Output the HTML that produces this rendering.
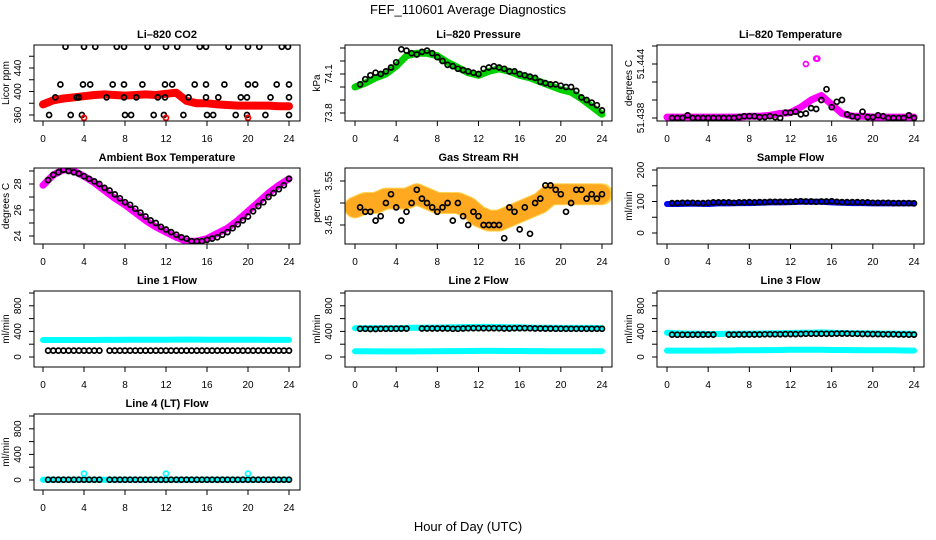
<!DOCTYPE html>
<html><head><meta charset="utf-8">
<style>
html,body{margin:0;padding:0;background:#fff;}
svg{display:block;font-family:"Liberation Sans",sans-serif;}
</style></head>
<body>
<svg id="chart" width="936" height="540" viewBox="0 0 936 540" xmlns="http://www.w3.org/2000/svg">
<rect x="0" y="0" width="936" height="540" fill="#fff"/>
<text x="468" y="14" font-size="13" text-anchor="middle">FEF_110601  Average Diagnostics</text>
<text x="468" y="531" font-size="13" text-anchor="middle">Hour of Day (UTC)</text>
</svg>
<script>
const xTicks = [0,4,8,12,16,20,24];
const co2Band = [378,385,388,390,392,394,395,394,393,394,395,394,396,398,384,380,380,378,377,376,376,376,376,375,375];
const co2CircHours = [2.2,4.0,5.1,7.2,7.9,10.2,12.0,13.1,15.3,15.9,18.1,20.0,21.1,23.3,23.9,
 1.7,3.9,4.6,6.8,7.9,9.7,11.9,12.6,14.8,15.9,17.7,20.0,20.7,22.8,24.0,
 1.2,3.3,3.5,6.2,7.9,9.1,11.2,11.9,14.2,15.9,17.1,19.3,19.9,22.2,24.0,
 0.6,2.7,3.8,8.0,8.6,10.8,11.8,13.7,16.0,16.6,18.8,19.9,21.7,24.0];
const co2CircVals = [476,476,476,476,476,476,476,476,476,476,476,476,476,476,476,
 412,412,412,412,412,412,412,412,412,412,412,412,412,412,412,
 390,390,390,390,390,390,390,390,390,390,390,390,390,390,390,
 360,360,360,360,360,360,360,360,360,360,360,360,360,360];
const presBand = [74.00,74.03,74.07,74.10,74.16,74.24,74.26,74.26,74.24,74.19,74.15,74.11,74.09,74.12,74.14,74.12,74.09,74.07,74.04,74.01,73.98,73.96,73.91,73.85,73.79];
const presCirc = [74.02,74.06,74.09,74.11,74.10,74.12,74.15,74.19,74.29,74.28,74.26,74.25,74.27,74.28,74.26,74.23,74.20,74.17,74.16,74.14,74.13,74.12,74.11,74.10,74.14,74.15,74.16,74.15,74.14,74.12,74.12,74.10,74.09,74.08,74.07,74.04,74.03,74.02,74.02,74.01,74.00,74.00,73.97,73.92,73.90,73.88,73.86,73.82];
const tempBand = [51.4381,51.4381,51.4381,51.4381,51.4381,51.4381,51.4381,51.4381,51.4382,51.4382,51.4383,51.4385,51.4386,51.4392,51.4400,51.4405,51.4395,51.4385,51.4382,51.4382,51.4381,51.4381,51.4381,51.4381,51.4381];
const tempCirc = [51.4380,51.4380,51.4380,51.4383,51.4380,51.4380,51.4380,51.4380,51.4380,51.4380,51.4380,51.4380,51.4380,51.4381,51.4382,51.4382,51.4382,51.4381,51.4381,51.4382,51.4381,51.4380,51.4386,51.4386,51.4387,51.4384,51.4385,51.4391,51.4390,51.4400,51.4412,51.4392,51.4398,51.4400,51.4384,51.4382,51.4381,51.4387,51.4381,51.4381,51.4383,51.4382,51.4380,51.4380,51.4380,51.4380,51.4383,51.4380];
const ambBand = [27.9,28.7,29.1,29.0,28.6,28.1,27.5,26.9,26.4,25.8,25.2,24.7,24.3,23.9,23.6,23.6,23.8,24.2,24.6,25.2,25.9,26.6,27.3,27.9,28.4];
const ambCirc = [28.3,28.7,28.9,29.1,29.0,28.9,28.8,28.6,28.4,28.2,28.0,27.7,27.5,27.2,26.9,26.6,26.4,26.1,25.8,25.5,25.2,25.0,24.7,24.5,24.3,24.1,23.9,23.8,23.6,23.6,23.6,23.7,23.8,23.9,24.1,24.3,24.6,24.9,25.2,25.5,25.9,26.3,26.6,27.0,27.3,27.6,27.9,28.4];
const rhBand = [3.49,3.50,3.50,3.51,3.51,3.51,3.52,3.51,3.50,3.50,3.50,3.49,3.47,3.46,3.46,3.47,3.48,3.49,3.50,3.52,3.52,3.52,3.52,3.52,3.52];
const rhCirc = [3.49,3.48,3.48,3.46,3.47,3.50,3.52,3.49,3.46,3.48,3.50,3.53,3.51,3.50,3.49,3.48,3.49,3.50,3.46,3.50,3.47,3.45,3.48,3.47,3.45,3.45,3.45,3.45,3.42,3.49,3.48,3.44,3.49,3.43,3.50,3.51,3.54,3.54,3.53,3.52,3.48,3.50,3.53,3.53,3.51,3.52,3.51,3.52];
const sfBand = [92,92,93,93,92,94,94,95,95,96,97,97,98,99,99,99,97,96,95,95,94,94,94,94,94];
const sfCirc = [95,95,96,96,96,95,95,96,97,97,97,97,96,97,97,98,97,98,98,99,99,99,99,99,100,101,100,100,99,100,100,101,99,98,98,98,98,97,97,96,96,96,96,95,95,95,95,94];
const l1Top = [265,265,265,266,266,266,267,267,268,268,269,270,271,272,272,272,271,270,270,269,268,268,267,267,267];
const l1Bot = [];
const l1Circ = [100,100,100,100,100,100,100,100,100,100,100,null,100,100,100,100,100,100,100,100,100,100,100,100,100,100,100,100,100,100,100,100,100,100,100,100,100,100,100,100,100,100,100,100,100,100,100,100];
const l2Top = [450,452,452,452,452,455,458,460,460,462,465,468,470,470,468,466,464,460,458,456,455,455,455,454,452];
const l2Bot = [90,90,88,88,88,88,88,90,90,92,92,94,95,95,95,94,93,92,92,91,90,90,90,90,90];
const l2Circ = [440,440,438,438,440,440,442,442,444,444,null,null,445,445,446,446,446,446,440,442,446,448,450,450,448,448,448,448,446,446,448,450,450,448,446,446,444,444,442,442,440,440,440,440,440,440,440,440];
const l3Top = [380,370,365,365,360,360,362,362,365,365,368,370,375,378,380,385,380,375,372,370,368,366,365,364,362];
const l3Bot = [100,100,100,100,100,102,102,104,105,106,108,110,112,112,112,112,110,110,108,106,105,104,104,102,100];
const l3Circ = [350,348,348,348,348,350,350,350,350,null,null,350,350,352,352,352,352,352,355,355,355,355,358,358,358,360,362,362,362,362,362,362,365,365,365,362,362,360,360,358,358,355,355,355,352,352,350,350];
const l4Top = [5,5,5,5,5,5,5,5,5,5,5,5,5,5,5,5,5,5,5,5,5,5,5,5,5];
const l4Bot = [];
const l4Circ = [5,5,5,5,5,5,5,5,5,5,5,null,5,5,5,5,5,5,5,5,5,5,5,5,5,5,5,5,5,5,5,5,5,5,5,5,5,5,5,5,5,5,5,5,5,5,5,5];
const l4SpikeHours = [4,12,20];
const l4SpikeVals = [100,100,100];

const NS = "http://www.w3.org/2000/svg";
const svg = document.getElementById('chart');
const hoursBand = []; for (let i = 0; i <= 24; i++) hoursBand.push(i);
const hoursCirc = []; for (let i = 1; i <= 48; i++) hoursCirc.push(i / 2);
const cols = [[34,300,43,289],[345,612,355,602],[657,924,667,914]];
const rows = [45,168,291,414];
const BH = 76;

function mk(tag, attrs, parent) {
  const e = document.createElementNS(NS, tag);
  for (const k in attrs) e.setAttribute(k, attrs[k]);
  (parent || svg).appendChild(e);
  return e;
}

function panel(cfg) {
  const c = cols[cfg.col], top = rows[cfg.row], bot = top + BH;
  const g = mk('g', {});
  
  
  const x = h => c[2] + (c[3] - c[2]) * h / 24;
  const y = v => cfg.p0 + (v - cfg.v0) * (cfg.p1 - cfg.p0) / (cfg.v1 - cfg.v0);
  const t = mk('text', {x: (c[0] + c[1]) / 2, y: top - 7, 'font-size': 11, 'font-weight': 'bold', 'text-anchor': 'middle'}, g);
  t.textContent = cfg.title;
  
  
  const clip = 'clip-' + cfg.name;
  const cp = mk('clipPath', {id: clip}, g);
  mk('rect', {x: c[0], y: top, width: c[1] - c[0], height: BH}, cp);
  const plot = mk('g', {'clip-path': 'url(#' + clip + ')'}, g);
  
  
  (cfg.bands || []).forEach(b => {
    if (!b.vals.length) return;
    const pts = b.vals.map((v, i) => x(hoursBand[i]).toFixed(1) + ',' + y(v).toFixed(1)).join(' ');
    const pl = mk('polyline', {points: pts, fill: 'none', stroke: b.color, 'stroke-width': b.w, 'stroke-linejoin': 'round', 'stroke-linecap': 'round', opacity: b.op || 1}, plot);
    if (b.dash) pl.setAttribute('stroke-dasharray', b.dash);
    
    
  });
  (cfg.circles || []).forEach(s => {
    s.vals.forEach((v, i) => {
      if (v === null) return;
      const hh = s.hours ? s.hours[i] : hoursCirc[i];
      const ci = mk('circle', {cx: x(hh).toFixed(1), cy: y(v).toFixed(1), r: 2.5, fill: 'none', stroke: s.color, 'stroke-width': 1.7}, plot);
      
      
    });
  });
  const box = mk('rect', {x: c[0], y: top, width: c[1] - c[0], height: BH, fill: 'none', stroke: '#000', 'stroke-width': 1}, g);
  
  
  const xa = mk('g', {}, g);
  
  
  xTicks.forEach(h => {
    mk('line', {x1: x(h), x2: x(h), y1: bot, y2: bot + 5, stroke: '#000'}, xa);
    const tl = mk('text', {x: x(h), y: bot + 21, 'font-size': 10, 'text-anchor': 'middle'}, xa);
    tl.textContent = h;
  });
  const ya = mk('g', {}, g);
  
  
  cfg.ticks.forEach(v => {
    mk('line', {x1: c[0] - 5, x2: c[0], y1: y(v), y2: y(v), stroke: '#000'}, ya);
  });
  cfg.labels.forEach(v => {
    const px = c[0] - 13, py = y(v);
    const tl = mk('text', {x: px, y: py, 'font-size': 10, 'text-anchor': 'middle', transform: 'rotate(-90 ' + px + ' ' + py + ')'}, ya);
    tl.textContent = v;
  });
  const yl = c[0] - 25, ym = top + BH / 2;
  const ylab = mk('text', {x: yl, y: ym, 'font-size': 10, 'text-anchor': 'middle', transform: 'rotate(-90 ' + yl + ' ' + ym + ')'}, g);
  ylab.textContent = cfg.ylab;
  
  
}

panel({name:'co2', title:'Li\u2013820 CO2', ylab:'Licor ppm', col:0, row:0, v0:360, p0:115, v1:440, p1:68,
  ticks:[360,380,400,420,440,460], labels:['360','400','440'],
  bands:[{vals:co2Band, color:'#ff0000', w:8}],
  circles:[{vals:co2CircVals, hours:co2CircHours, color:'#000'}, {vals:[355,355,355], hours:[4,12,20], color:'#ff0000'}]});
panel({name:'pressure', title:'Li\u2013820 Pressure', ylab:'kPa', col:1, row:0, v0:73.8, p0:113, v1:74.1, p1:74,
  ticks:[73.8,73.9,74.0,74.1,74.2,74.3], labels:['73.8','74.1'],
  bands:[{vals:presBand, color:'#00d000', w:7}],
  circles:[{vals:presCirc, color:'#000'}]});
panel({name:'temperature', title:'Li\u2013820 Temperature', ylab:'degrees C', col:2, row:0, v0:51.438, p0:118, v1:51.444, p1:64,
  ticks:[51.438,51.440,51.442,51.444,51.446], labels:['51.438','51.444'],
  bands:[{vals:tempBand, color:'#ff00ff', w:7}],
  circles:[{vals:tempCirc, color:'#000'}, {vals:[51.4446,51.4440,51.4446], hours:[14.6,13.5,14.5], color:'#ff00ff'}]});
panel({name:'ambient', title:'Ambient Box Temperature', ylab:'degrees C', col:0, row:1, v0:24, p0:236, v1:28, p1:184,
  ticks:[24,25,26,27,28,29], labels:['24','26','28'],
  bands:[{vals:ambBand, color:'#ff00ff', w:7}],
  circles:[{vals:ambCirc, color:'#000'}]});
panel({name:'rh', title:'Gas Stream RH', ylab:'percent', col:1, row:1, v0:3.45, p0:225, v1:3.55, p1:181,
  ticks:[3.45,3.50,3.55], labels:['3.45','3.55'],
  bands:[{vals:rhBand, color:'#ffd040', w:22, op:0.9}, {vals:rhBand, color:'#ff8c00', w:20, op:0.6, dash:'2 2'}],
  circles:[{vals:rhCirc, color:'#000'}]});
panel({name:'sample-flow', title:'Sample Flow', ylab:'ml/min', col:2, row:1, v0:0, p0:233, v1:200, p1:170,
  ticks:[0,50,100,150,200], labels:['0','100','200'],
  bands:[{vals:sfBand, color:'#0000ff', w:6}],
  circles:[{vals:sfCirc, color:'#000'}]});
panel({name:'line1-flow', title:'Line 1 Flow', ylab:'ml/min', col:0, row:2, v0:0, p0:357, v1:1000, p1:293,
  ticks:[0,200,400,600,800,1000], labels:['0','400','800'],
  bands:[{vals:l1Top, color:'#00ffff', w:6}, {vals:l1Bot, color:'#00ffff', w:5}],
  circles:[{vals:l1Circ, color:'#000'}]});
panel({name:'line2-flow', title:'Line 2 Flow', ylab:'ml/min', col:1, row:2, v0:0, p0:357, v1:1000, p1:293,
  ticks:[0,200,400,600,800,1000], labels:['0','400','800'],
  bands:[{vals:l2Top, color:'#00ffff', w:6}, {vals:l2Bot, color:'#00ffff', w:6}],
  circles:[{vals:l2Circ, color:'#000'}]});
panel({name:'line3-flow', title:'Line 3 Flow', ylab:'ml/min', col:2, row:2, v0:0, p0:357, v1:1000, p1:293,
  ticks:[0,200,400,600,800,1000], labels:['0','400','800'],
  bands:[{vals:l3Top, color:'#00ffff', w:6}, {vals:l3Bot, color:'#00ffff', w:6}],
  circles:[{vals:l3Circ, color:'#000'}]});
panel({name:'line4-flow', title:'Line 4 (LT) Flow', ylab:'ml/min', col:0, row:3, v0:0, p0:480, v1:1000, p1:416,
  ticks:[0,200,400,600,800,1000], labels:['0','400','800'],
  bands:[{vals:l4Top, color:'#00ffff', w:6}, {vals:l4Bot, color:'#00ffff', w:5}],
  circles:[{vals:l4Circ, color:'#000'}, {vals:l4SpikeVals, hours:l4SpikeHours, color:'#00ffff'}]});
</script>
</body></html>
